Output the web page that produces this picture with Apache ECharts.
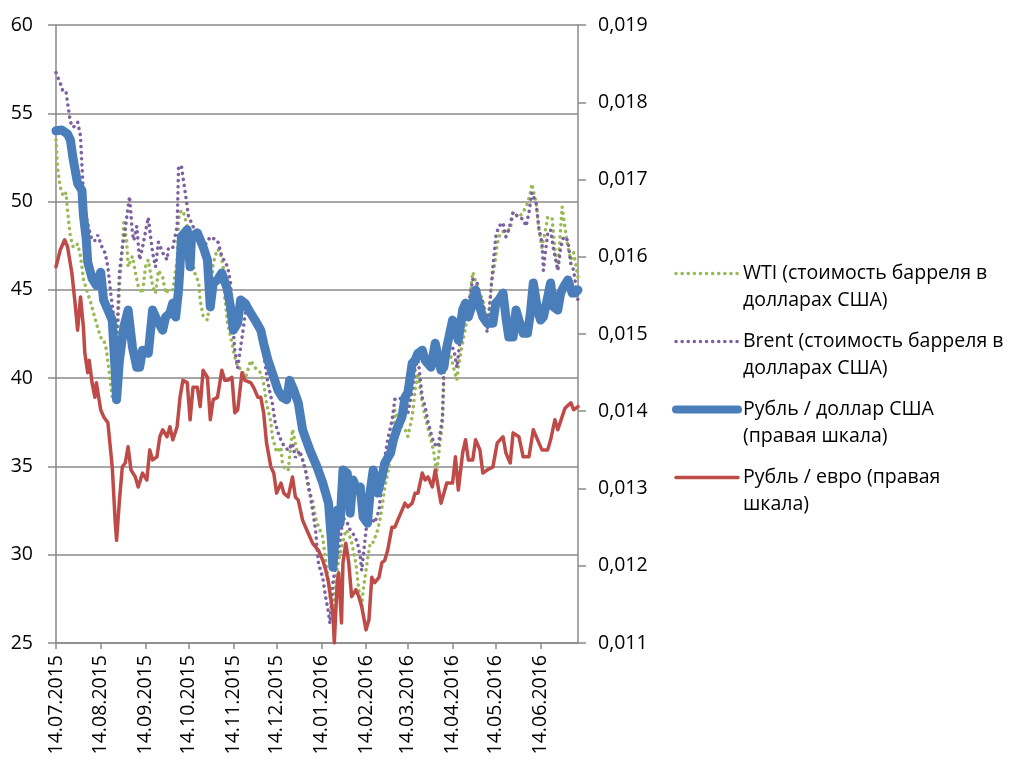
<!DOCTYPE html>
<html><head><meta charset="utf-8">
<script src="https://cdn.jsdelivr.net/npm/echarts@6/dist/echarts.min.js"></script>
<style>html,body{margin:0;padding:0;background:#fff}#c{width:1010px;height:760px}</style>
</head><body><div id="c"></div>
<script>
// x positions: days since 14.07.2015
const tickDays = [0,31,62,92,123,153,184,215,244,275,305,336];
const tickLabels = ['14.07.2015','14.08.2015','14.09.2015','14.10.2015','14.11.2015','14.12.2015','14.01.2016','14.02.2016','14.03.2016','14.04.2016','14.05.2016','14.06.2016'];

const seriesNames = [
  'WTI (стоимость барреля в\nдолларах США)',
  'Brent (стоимость барреля в\nдолларах США)',
  'Рубль / доллар США\n(правая шкала)',
  'Рубль / евро (правая\nшкала)'
];

const wtiDays = [0,1,3,5,7,8,10,12,15,17,18,19,22,24,26,28,31,33,35,37,39,41,42,43,44,46,47,49,50,53,55,57,60,62,64,67,69,71,74,76,78,81,84,85,86,88,91,94,96,99,100,102,105,107,109,112,114,116,117,119,122,124,126,129,131,135,138,142,144,146,149,150,152,153,156,157,159,161,164,165,167,171,173,175,178,180,182,185,186,188,190,192,194,196,199,201,203,205,208,210,212,213,216,218,220,223,225,228,230,233,235,237,240,242,244,247,249,251,254,256,260,262,264,265,268,269,270,274,276,278,279,282,285,287,289,292,296,298,300,302,304,306,308,312,315,317,321,324,327,329,330,333,335,337,339,341,344,346,348,349,351,352,355,357,359,362];
const wtiPrice = [53.5,52.0,50.8,50.3,50.5,49.5,48.0,47.4,47.6,46.9,46.3,45.6,44.8,44.3,43.7,43.1,42.3,42.2,41.6,40.3,38.9,39.2,41.4,42.9,45.2,47.4,48.8,47.8,46.3,46.9,46.0,45.2,44.8,46.3,46.7,45.2,44.8,46.1,45.7,44.8,45.0,45.0,46.7,49.0,49.4,49.5,48.6,47.1,46.0,45.4,44.4,43.5,43.3,44.6,46.5,47.3,47.1,46.3,44.6,43.1,42.0,41.2,40.6,40.5,39.9,41.0,40.6,40.3,39.7,38.6,37.5,36.7,36.1,35.8,36.1,35.2,34.8,34.8,37.1,36.7,35.9,35.4,34.8,33.7,33.1,32.1,31.6,31.0,30.3,29.1,27.6,26.5,28.6,29.7,30.7,31.4,31.2,30.7,29.5,28.0,27.0,28.0,29.7,30.7,30.7,31.4,32.1,33.8,34.6,36.1,38.2,37.8,37.2,37.1,36.7,37.8,39.3,40.3,38.6,37.8,36.5,35.8,34.6,35.4,37.5,40.1,40.9,41.2,40.5,39.9,40.6,42.0,43.3,44.6,46.0,45.2,44.4,43.7,43.1,45.4,46.3,47.6,48.2,48.4,48.4,49.4,49.1,49.4,49.9,50.5,51.0,49.9,48.4,47.4,48.2,49.1,49.1,47.3,46.1,47.4,49.7,49.1,47.4,46.7,47.1,45.7];

const brentDays = [0,3,5,7,8,10,12,15,17,18,19,21,23,25,27,29,32,34,36,38,40,42,43,44,46,48,49,51,53,54,56,58,60,64,67,69,71,74,77,78,81,84,85,87,90,92,94,96,100,103,107,112,115,119,121,123,124,126,129,131,133,135,138,140,144,147,150,152,154,157,159,161,164,166,169,173,175,178,180,182,185,187,189,190,192,195,197,199,202,204,206,209,211,212,215,217,219,221,224,226,228,230,233,235,237,240,242,244,247,249,251,254,256,258,262,265,268,269,270,272,276,278,280,284,287,289,292,294,296,299,301,303,305,307,310,312,314,317,321,324,326,328,330,333,335,337,338,339,341,343,345,348,350,352,355,357,359,362];
const brentPrice = [57.3,56.7,56.2,56.2,55.6,54.5,54.2,54.5,53.7,52.0,50.5,49.1,48.4,47.8,47.8,48.1,47.4,47.1,46.3,44.8,43.5,42.3,44.0,46.0,47.4,48.4,49.1,50.3,48.2,47.8,48.6,46.7,47.4,49.1,47.1,46.3,47.7,47.1,46.7,47.4,47.4,48.6,52.0,52.0,50.3,49.1,48.8,48.4,47.8,47.5,48.0,47.8,46.9,46.3,45.4,42.6,41.6,40.6,42.3,43.5,44.3,43.9,43.5,42.9,41.4,39.7,38.6,37.5,36.9,36.3,36.1,35.9,36.3,35.5,35.9,34.8,34.0,32.5,31.4,29.5,28.7,27.6,26.7,26.1,28.4,29.9,30.8,32.1,31.8,31.4,31.2,30.7,29.9,29.1,31.4,32.1,32.1,31.8,32.5,34.2,35.5,36.5,37.6,38.8,38.9,38.8,38.4,38.0,39.3,40.5,41.2,38.9,38.4,37.5,36.3,36.1,37.8,40.5,41.4,42.0,41.6,40.6,42.0,43.7,44.6,45.6,45.4,44.6,44.3,42.6,44.4,46.3,48.0,48.6,48.8,48.0,48.4,49.4,49.1,49.0,48.6,49.4,50.5,49.9,48.4,47.7,46.1,46.9,48.2,48.4,47.3,46.1,47.4,48.0,47.8,46.5,46.1,44.4];

const usdDays = [0,4,8,10,12,15,18,19,21,22,25,28,31,33,36,39,41,42,44,47,50,53,56,58,60,64,67,70,74,76,79,81,83,85,86,87,91,93,94,98,100,102,105,107,109,112,115,119,121,123,126,128,131,135,138,142,144,147,151,154,157,160,162,165,168,171,176,181,185,189,191,192,195,197,199,202,204,206,209,211,213,216,218,220,223,226,228,232,234,237,240,242,244,247,249,251,254,256,260,263,267,269,271,275,277,279,282,284,286,289,291,293,296,299,303,305,307,310,312,314,317,319,321,324,327,329,331,334,336,338,341,343,345,348,350,352,355,358,360,362];
const usdRate = [0.01763,0.01764,0.01759,0.01751,0.01725,0.01695,0.01686,0.01654,0.01622,0.01593,0.01572,0.01563,0.01580,0.01544,0.01531,0.01518,0.01453,0.01415,0.01466,0.01509,0.01531,0.01483,0.01457,0.01457,0.01479,0.01475,0.01531,0.01518,0.01505,0.01522,0.01527,0.01540,0.01522,0.01557,0.01587,0.01626,0.01635,0.01587,0.01626,0.01631,0.01622,0.01613,0.01596,0.01535,0.01566,0.01570,0.01579,0.01557,0.01535,0.01505,0.01514,0.01544,0.01540,0.01527,0.01518,0.01505,0.01488,0.01466,0.01444,0.01427,0.01418,0.01415,0.01440,0.01427,0.01411,0.01376,0.01350,0.01328,0.01307,0.01281,0.01233,0.01198,0.01272,0.01255,0.01324,0.01320,0.01268,0.01311,0.01298,0.01302,0.01263,0.01255,0.01298,0.01324,0.01294,0.01315,0.01333,0.01346,0.01363,0.01380,0.01393,0.01418,0.01424,0.01462,0.01466,0.01475,0.01479,0.01466,0.01457,0.01488,0.01453,0.01457,0.01483,0.01518,0.01509,0.01492,0.01531,0.01540,0.01522,0.01540,0.01557,0.01540,0.01522,0.01514,0.01514,0.01540,0.01544,0.01553,0.01522,0.01496,0.01496,0.01531,0.01518,0.01501,0.01501,0.01527,0.01566,0.01531,0.01518,0.01522,0.01548,0.01566,0.01535,0.01531,0.01553,0.01561,0.01570,0.01553,0.01553,0.01557];

const eurDays = [0,3,6,8,11,13,15,17,19,20,22,23,25,27,28,31,33,36,39,41,42,44,46,48,50,52,55,57,60,63,65,67,70,72,74,77,79,81,84,86,88,91,93,95,98,100,102,105,107,109,112,115,117,119,122,124,126,129,131,135,137,140,142,144,146,149,151,153,156,158,161,164,166,168,171,174,178,182,185,187,189,192,193,195,196,198,199,201,203,205,208,210,212,215,217,219,221,224,226,228,230,233,235,237,240,242,244,247,249,251,254,256,258,261,263,267,271,275,277,279,282,284,286,289,291,294,296,299,303,306,310,312,315,317,321,324,328,331,334,337,341,343,346,348,351,353,357,359,362];
const eurRate = [0.01587,0.01609,0.01622,0.01613,0.01579,0.01544,0.01505,0.01548,0.01509,0.01475,0.01450,0.01466,0.01437,0.01418,0.01437,0.01402,0.01393,0.01385,0.01328,0.01259,0.01233,0.01285,0.01328,0.01333,0.01354,0.01324,0.01315,0.01302,0.01320,0.01311,0.01350,0.01337,0.01341,0.01367,0.01376,0.01367,0.01380,0.01363,0.01380,0.01418,0.01440,0.01437,0.01389,0.01431,0.01431,0.01406,0.01453,0.01444,0.01389,0.01415,0.01418,0.01453,0.01440,0.01440,0.01444,0.01398,0.01402,0.01450,0.01440,0.01437,0.01431,0.01418,0.01418,0.01398,0.01359,0.01328,0.01320,0.01294,0.01307,0.01294,0.01289,0.01315,0.01289,0.01285,0.01259,0.01246,0.01229,0.01220,0.01207,0.01195,0.01178,0.01139,0.01100,0.01178,0.01191,0.01126,0.01204,0.01229,0.01204,0.01160,0.01169,0.01160,0.01147,0.01117,0.01130,0.01185,0.01178,0.01185,0.01204,0.01207,0.01220,0.01250,0.01250,0.01259,0.01272,0.01281,0.01276,0.01281,0.01294,0.01294,0.01320,0.01311,0.01315,0.01302,0.01324,0.01281,0.01307,0.01307,0.01341,0.01298,0.01346,0.01363,0.01337,0.01337,0.01363,0.01350,0.01320,0.01324,0.01328,0.01359,0.01367,0.01346,0.01333,0.01372,0.01367,0.01341,0.01341,0.01376,0.01363,0.01350,0.01350,0.01363,0.01389,0.01376,0.01393,0.01404,0.01411,0.01402,0.01406];

const FONT = '"Open Sans", sans-serif';
const FS = 19.5;
const GRID = '#8a8a8a';
const COLORS = ['#98B954', '#7D60A0', '#4A7EBB', '#BE4B48'];
const DOTS = [0.1, 6];
const pair = (xs, ys) => xs.map((x, i) => [x, ys[i]]);

const chart = echarts.init(document.getElementById('c'));
chart.setOption({
  animation: false,
  textStyle: { fontFamily: FONT },
  grid: { left: 56, right: 432, top: 25, bottom: 117 },
  xAxis: {
    type: 'value', min: 0, max: 362,
    axisLine: { show: true, lineStyle: { color: GRID, width: 1.5 } },
    axisTick: { show: true, customValues: tickDays, length: 6, lineStyle: { color: GRID, width: 1.5 } },
    axisLabel: {
      customValues: tickDays, rotate: 90, margin: 12, color: '#000', fontSize: FS, fontFamily: FONT,
      formatter: v => tickLabels[tickDays.indexOf(v)]
    },
    splitLine: { show: false }
  },
  yAxis: [
    {
      type: 'value', position: 'left', min: 25, max: 60, interval: 5,
      axisLine: { show: true, lineStyle: { color: GRID, width: 1.5 } },
      axisTick: { show: true, length: 8, lineStyle: { color: GRID, width: 1.5 } },
      axisLabel: { color: '#000', fontSize: FS, fontFamily: FONT, margin: 23 },
      splitLine: { show: true, lineStyle: { color: GRID, width: 1.5 } }
    },
    {
      type: 'value', position: 'right', min: 0.011, max: 0.019, interval: 0.001,
      axisLine: { show: true, lineStyle: { color: GRID, width: 1.5 } },
      axisTick: { show: true, length: 8, lineStyle: { color: GRID, width: 1.5 } },
      axisLabel: { color: '#000', fontSize: FS, fontFamily: FONT, margin: 20,
        formatter: v => v.toFixed(3).replace('.', ',') },
      splitLine: { show: false }
    }
  ],
  legend: {
    orient: 'vertical', left: 672, top: 233, padding: 0, itemGap: -13,
    itemWidth: 62, itemHeight: 14,
    itemStyle: { opacity: 0 },
    formatter: name => ' \n' + name,
    textStyle: { fontFamily: FONT, fontSize: FS, color: '#000', lineHeight: 27 },
    data: [
      { name: seriesNames[0], lineStyle: { color: COLORS[0], width: 3.5, type: DOTS, cap: 'round' } },
      { name: seriesNames[1], lineStyle: { color: COLORS[1], width: 3.5, type: DOTS, cap: 'round' } },
      { name: seriesNames[2], lineStyle: { color: COLORS[2], width: 8, type: 'solid', cap: 'round' } },
      { name: seriesNames[3], lineStyle: { color: COLORS[3], width: 3.5, type: 'solid', cap: 'round' } }
    ]
  },
  series: [
    { name: seriesNames[0], type: 'line', yAxisIndex: 0, symbol: 'none', data: pair(wtiDays, wtiPrice),
      itemStyle: { color: COLORS[0] },
      lineStyle: { color: COLORS[0], width: 3.5, type: DOTS, cap: 'round' } },
    { name: seriesNames[1], type: 'line', yAxisIndex: 0, symbol: 'none', data: pair(brentDays, brentPrice),
      itemStyle: { color: COLORS[1] },
      lineStyle: { color: COLORS[1], width: 3.5, type: DOTS, cap: 'round' } },
    { name: seriesNames[2], type: 'line', yAxisIndex: 1, symbol: 'none', data: pair(usdDays, usdRate),
      itemStyle: { color: COLORS[2] },
      lineStyle: { color: COLORS[2], width: 9, cap: 'round', join: 'round' } },
    { name: seriesNames[3], type: 'line', yAxisIndex: 1, symbol: 'none', data: pair(eurDays, eurRate),
      itemStyle: { color: COLORS[3] },
      lineStyle: { color: COLORS[3], width: 3.5, cap: 'round', join: 'round' } }
  ]
});
</script></body></html>
